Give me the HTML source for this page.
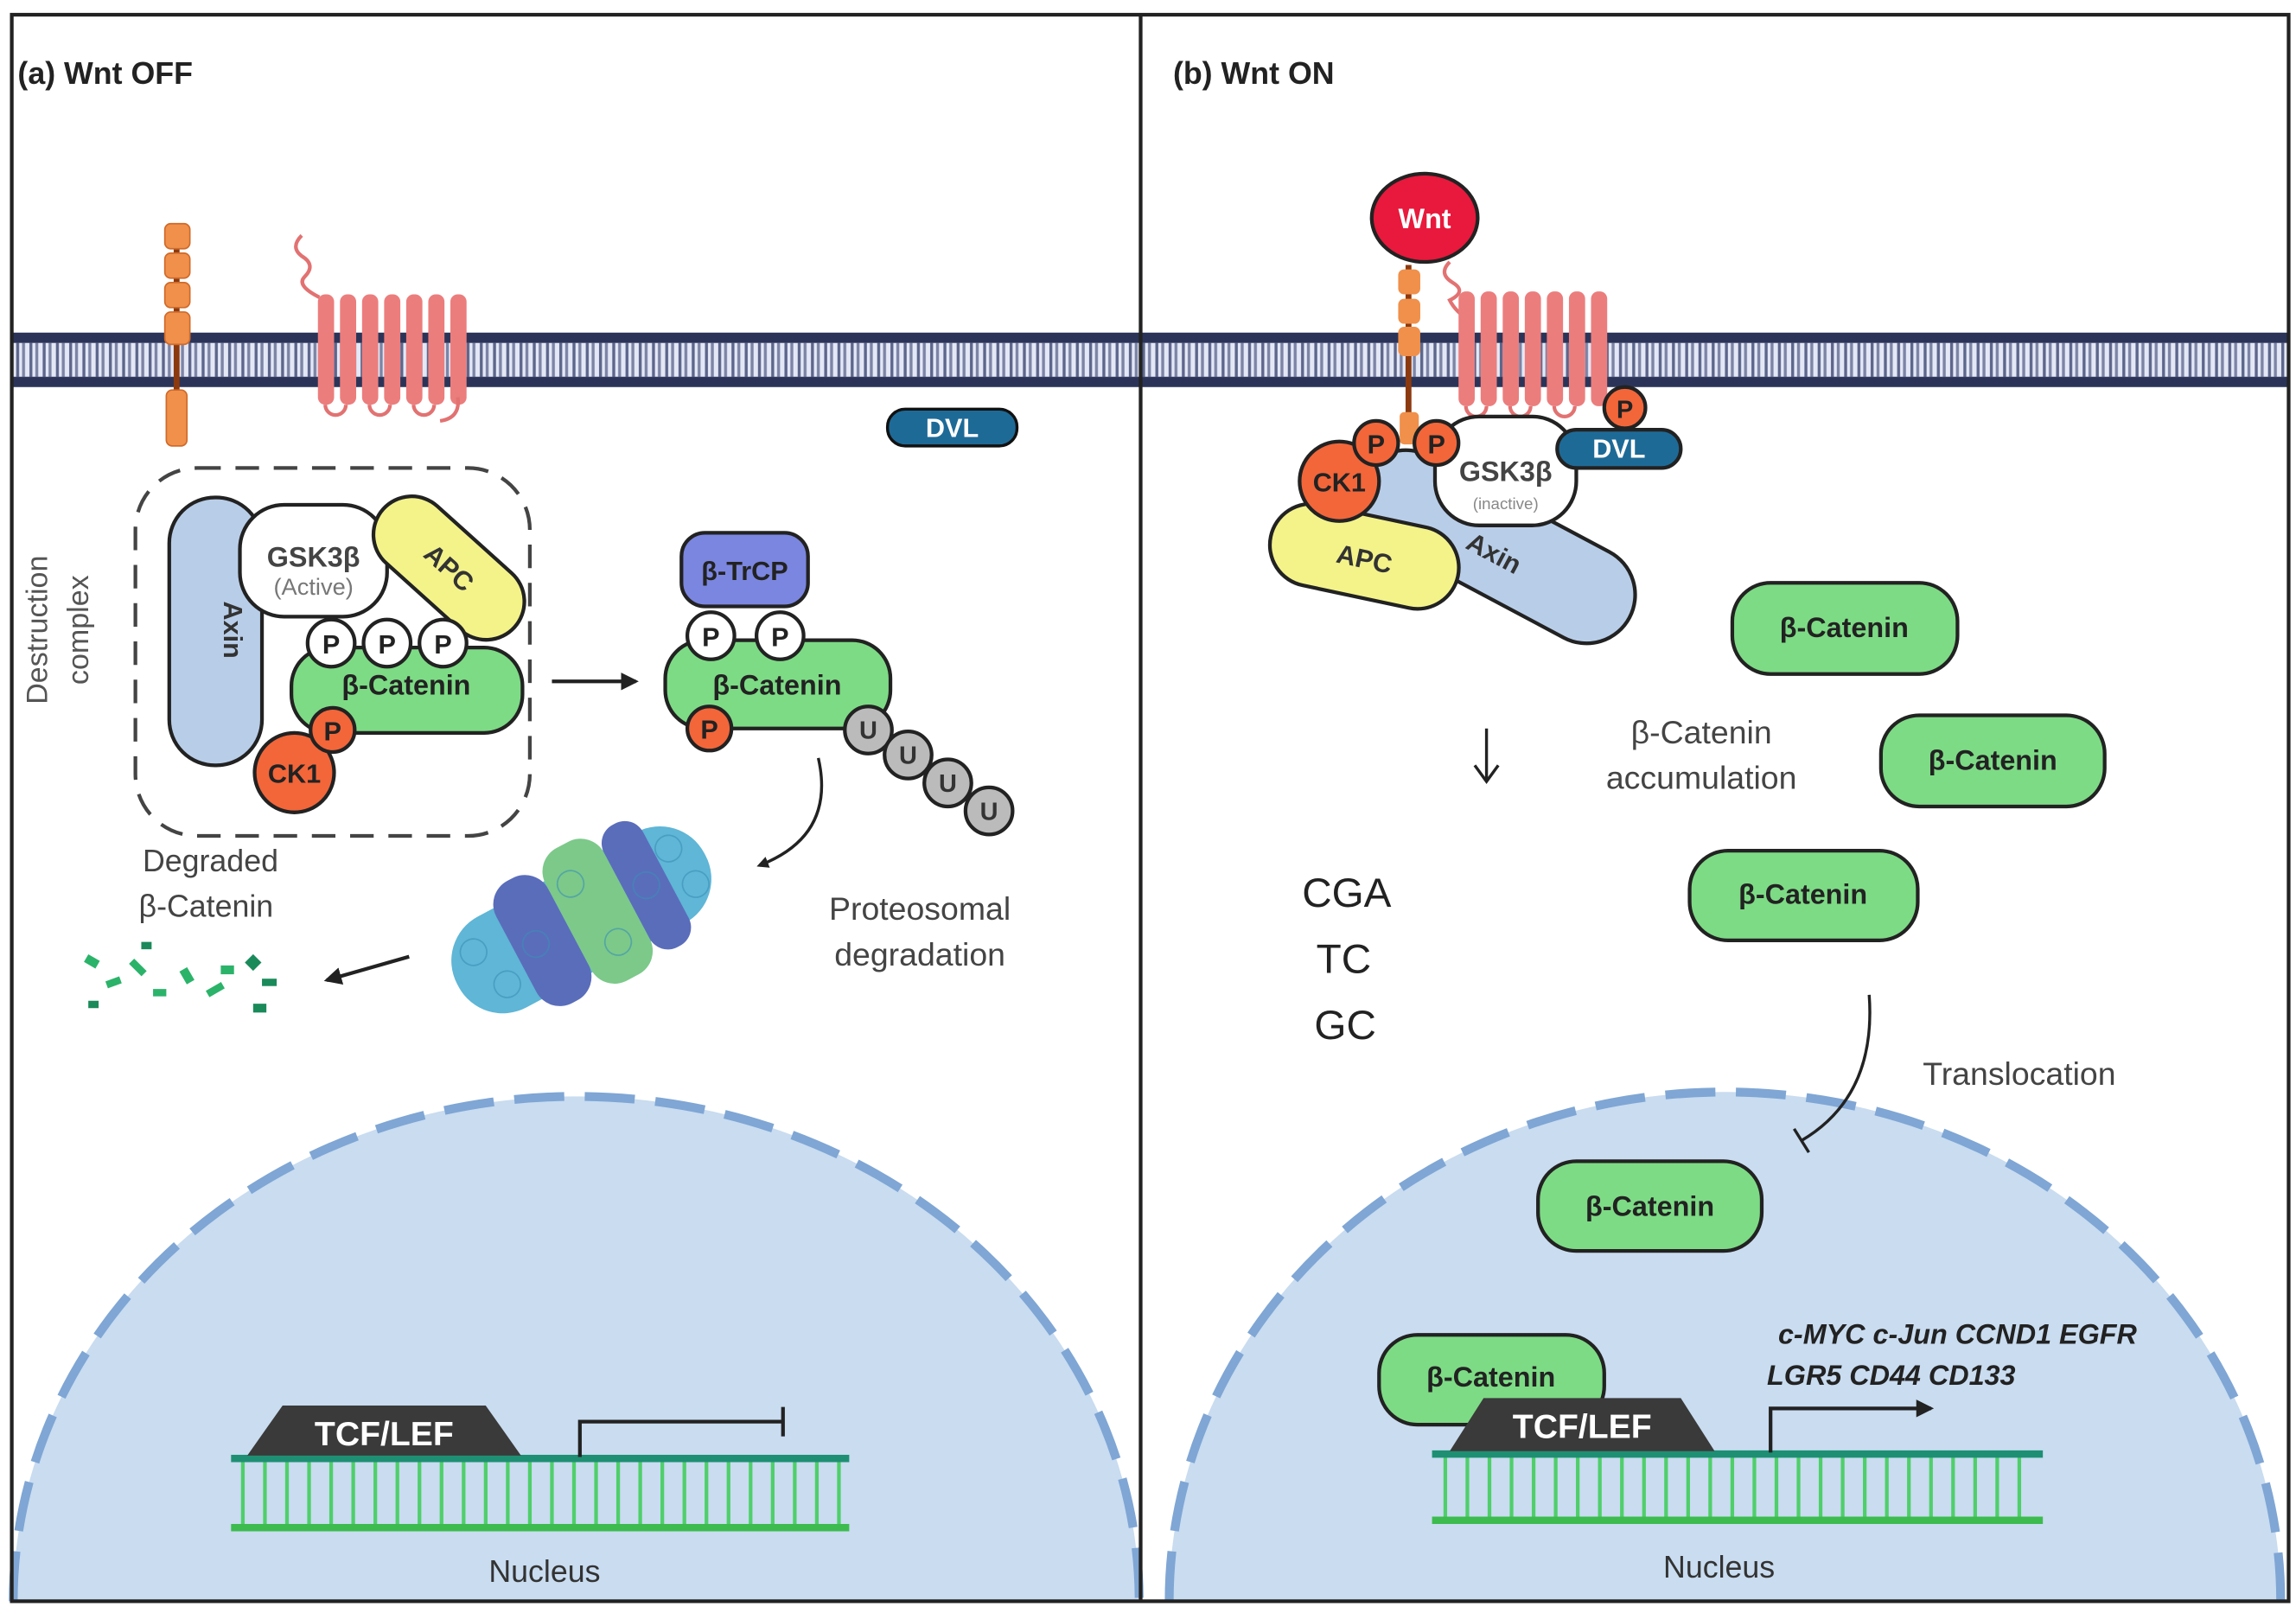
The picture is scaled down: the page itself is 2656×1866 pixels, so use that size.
<!DOCTYPE html>
<html><head><meta charset="utf-8"><style>
html,body{margin:0;padding:0;background:#fff;width:2656px;height:1866px;overflow:hidden;}
svg{display:block;vertical-align:top;}
text{font-family:"Liberation Sans",sans-serif;}
</style></head><body>
<svg width="2656" height="1866" viewBox="0 0 1560 1096" preserveAspectRatio="none" xmlns="http://www.w3.org/2000/svg">
<defs>
<pattern id="mem" x="0" y="226" width="9" height="37" patternUnits="userSpaceOnUse">
<rect width="9" height="37" fill="#e4e8f6"/>
<rect x="0" y="0" width="9" height="7" fill="#2b3458"/>
<rect x="0" y="30" width="9" height="7" fill="#2b3458"/>
<rect x="2" y="7" width="2" height="23" fill="#5d668c"/>
<rect x="6" y="7" width="2" height="23" fill="#7c84a6"/>
</pattern>
<marker id="ah" markerWidth="8" markerHeight="8" refX="6" refY="4" orient="auto" markerUnits="userSpaceOnUse"><path d="M0,0 L8,4 L0,8 z" fill="#222"/></marker>
<marker id="ah2" markerWidth="12" markerHeight="12" refX="10" refY="6" orient="auto" markerUnits="userSpaceOnUse"><path d="M0,0 L12,6 L0,12 z" fill="#222"/></marker>
</defs>
<rect width="1560" height="1096" fill="#fff"/>

<path d="M9,1088 A382.5,343 0 0 1 774,1088 Z" fill="#c9dcf0"/>
<path d="M9,1088 A382.5,343 0 0 1 774,1088" fill="none" stroke="#7fa6d4" stroke-width="6" stroke-dasharray="34 14"/>
<path d="M794.4,1088 A377.6,346 0 0 1 1549.6,1088 Z" fill="#c9dcf0"/>
<path d="M794.4,1088 A377.6,346 0 0 1 1549.6,1088" fill="none" stroke="#7fa6d4" stroke-width="6" stroke-dasharray="34 14"/>

<rect x="8" y="226" width="1547" height="37" fill="url(#mem)"/>

<rect x="8" y="10" width="1547" height="1078" fill="none" stroke="#222" stroke-width="2.5"/>
<line x1="775" y1="10" x2="775" y2="1088" stroke="#222" stroke-width="2.5"/>

<text x="12" y="57" font-size="21" font-weight="bold" fill="#222">(a)  Wnt OFF</text>
<text x="797" y="57" font-size="21" font-weight="bold" fill="#222">(b)  Wnt ON</text>

<line x1="120" y1="160" x2="120" y2="290" stroke="#8b3a10" stroke-width="4"/>
<g fill="#f0904a" stroke="#d06a2a" stroke-width="1">
<rect x="112" y="152" width="17" height="17" rx="4"/><rect x="112" y="172" width="17" height="17" rx="4"/><rect x="112" y="192" width="17" height="17" rx="4"/><rect x="112" y="212" width="17" height="22" rx="4"/>
<rect x="113" y="265" width="14" height="38" rx="4"/>
</g>
<path d="M205,160 q-8,8 0,14 q10,6 2,14 q-6,6 10,14" fill="none" stroke="#e27272" stroke-width="2.5"/>
<g fill="#ec7d7d">
<rect x="216" y="200" width="11" height="75" rx="5"/><rect x="231" y="200" width="11" height="75" rx="5"/><rect x="246" y="200" width="11" height="75" rx="5"/><rect x="261" y="200" width="11" height="75" rx="5"/><rect x="276" y="200" width="11" height="75" rx="5"/><rect x="291" y="200" width="11" height="75" rx="5"/><rect x="306" y="200" width="11" height="75" rx="5"/>
</g>
<path d="M221,275 a7,7 0 0 0 14,0 M251,275 a7,7 0 0 0 14,0 M281,275 a7,7 0 0 0 14,0 M311,270 q2,14 -12,16" fill="none" stroke="#e27272" stroke-width="2.5"/>
<rect x="603" y="278" width="88" height="25" rx="12" fill="#1e6a97" stroke="#111" stroke-width="2"/>
<text x="647" y="297" font-size="18" font-weight="bold" fill="#fff" text-anchor="middle">DVL</text>

<rect x="92" y="318" width="268" height="250" rx="42" fill="none" stroke="#444" stroke-width="2.5" stroke-dasharray="16 10"/>
<text transform="translate(32,428) rotate(-90)" font-size="20" fill="#555" text-anchor="middle">Destruction</text>
<text transform="translate(60,428) rotate(-90)" font-size="20" fill="#555" text-anchor="middle">complex</text>
<rect x="115" y="338" width="63" height="182" rx="31" fill="#b8cde8" stroke="#222" stroke-width="2.5"/>
<text transform="translate(152,428) rotate(90)" font-size="18" font-weight="bold" fill="#333" text-anchor="middle">Axin</text>
<rect x="163" y="343" width="100" height="76" rx="30" fill="#fff" stroke="#222" stroke-width="2.5"/>
<text x="213" y="385" font-size="19" font-weight="bold" fill="#444" text-anchor="middle">GSK3β</text>
<text x="213" y="404" font-size="16" fill="#777" text-anchor="middle">(Active)</text>
<rect x="245" y="360" width="120" height="52" rx="26" fill="#f3f38a" stroke="#222" stroke-width="2.5" transform="rotate(42 305 386)"/>
<text x="305" y="392" font-size="18" font-weight="bold" fill="#333" text-anchor="middle" transform="rotate(42 305 386)">APC</text>
<rect x="198" y="440" width="157" height="58" rx="26" fill="#7ddb85" stroke="#222" stroke-width="2.5"/>
<text x="276" y="472" font-size="19" font-weight="bold" fill="#222" text-anchor="middle">β-Catenin</text>
<g stroke="#222" stroke-width="2.5" fill="#fff">
<circle cx="225" cy="437" r="16"/><circle cx="263" cy="437" r="16"/><circle cx="301" cy="437" r="16"/>
</g>
<g font-size="18" font-weight="bold" fill="#222" text-anchor="middle"><text x="225" y="444">P</text><text x="263" y="444">P</text><text x="301" y="444">P</text></g>
<circle cx="200" cy="525" r="27" fill="#f2663a" stroke="#222" stroke-width="2.5"/>
<text x="200" y="532" font-size="18" font-weight="bold" fill="#222" text-anchor="middle">CK1</text>
<circle cx="226" cy="496" r="15" fill="#f2663a" stroke="#222" stroke-width="2.5"/>
<text x="226" y="503" font-size="18" font-weight="bold" fill="#222" text-anchor="middle">P</text>

<line x1="375" y1="463" x2="432" y2="463" stroke="#222" stroke-width="2.5" marker-end="url(#ah2)"/>

<rect x="463" y="362" width="86" height="50" rx="16" fill="#7b86e0" stroke="#222" stroke-width="2.5"/>
<text x="506" y="394" font-size="18" font-weight="bold" fill="#222" text-anchor="middle">β-TrCP</text>
<rect x="452" y="435" width="153" height="60" rx="26" fill="#7ddb85" stroke="#222" stroke-width="2.5"/>
<text x="528" y="472" font-size="19" font-weight="bold" fill="#222" text-anchor="middle">β-Catenin</text>
<g stroke="#222" stroke-width="2.5" fill="#fff"><circle cx="483" cy="432" r="16"/><circle cx="530" cy="432" r="16"/></g>
<g font-size="18" font-weight="bold" fill="#222" text-anchor="middle"><text x="483" y="439">P</text><text x="530" y="439">P</text></g>
<circle cx="482" cy="495" r="15" fill="#f2663a" stroke="#222" stroke-width="2.5"/>
<text x="482" y="502" font-size="18" font-weight="bold" fill="#222" text-anchor="middle">P</text>
<g stroke="#222" stroke-width="2.5" fill="#bbbbbb">
<circle cx="590" cy="496" r="16"/><circle cx="617" cy="513" r="16"/><circle cx="644" cy="532" r="16"/><circle cx="672" cy="551" r="16"/>
</g>
<g font-size="17" font-weight="bold" fill="#333" text-anchor="middle"><text x="590" y="502">U</text><text x="617" y="519">U</text><text x="644" y="538">U</text><text x="672" y="557">U</text></g>

<path d="M556,515 Q568,568 516,588" fill="none" stroke="#222" stroke-width="2" marker-end="url(#ah)"/>
<text x="625" y="625" font-size="22" fill="#444" text-anchor="middle">Proteosomal</text>
<text x="625" y="656" font-size="22" fill="#444" text-anchor="middle">degradation</text>

<g transform="rotate(-28 395 625)">
<rect x="300" y="590" width="190" height="70" rx="34" fill="#5fb6d6"/>
<rect x="345" y="578" width="40" height="94" rx="18" fill="#5a6dbb"/>
<rect x="385" y="574" width="45" height="102" rx="18" fill="#7cc98a"/>
<rect x="430" y="578" width="30" height="94" rx="14" fill="#5a6dbb"/>
<g fill="none" stroke="#3b8fb5" stroke-width="1" opacity="0.6">
<circle cx="320" cy="610" r="9"/><circle cx="330" cy="640" r="9"/><circle cx="470" cy="610" r="9"/><circle cx="475" cy="640" r="9"/><circle cx="400" cy="600" r="9"/><circle cx="410" cy="650" r="9"/><circle cx="360" cy="625" r="9"/><circle cx="445" cy="625" r="9"/>
</g>
</g>
<line x1="278" y1="650" x2="222" y2="666" stroke="#222" stroke-width="2.5" marker-end="url(#ah2)"/>
<text x="143" y="592" font-size="21" fill="#444" text-anchor="middle">Degraded</text>
<text x="140" y="623" font-size="21" fill="#444" text-anchor="middle">β-Catenin</text>
<g fill="#2bb36a">
<rect x="58" y="650" width="9" height="6" transform="rotate(30 62 653)"/><rect x="72" y="665" width="10" height="5" transform="rotate(-20 77 667)"/>
<rect x="88" y="655" width="12" height="5" transform="rotate(45 94 657)"/><rect x="104" y="672" width="9" height="5"/>
<rect x="122" y="660" width="10" height="6" transform="rotate(60 127 663)"/><rect x="140" y="670" width="12" height="5" transform="rotate(-30 146 672)"/>
<rect x="150" y="656" width="9" height="6"/><rect x="168" y="650" width="8" height="8" fill="#1a8a5a" transform="rotate(45 172 654)"/>
<rect x="172" y="682" width="9" height="6" fill="#1a8a5a"/><rect x="60" y="680" width="7" height="5" fill="#1a8a5a"/>
<rect x="178" y="665" width="10" height="5" fill="#1a8a5a"/><rect x="96" y="640" width="7" height="5" fill="#1a8a5a"/>
</g>

<g stroke="#4fcf6a" stroke-width="2.5">
<line x1="165" y1="992" x2="165" y2="1037"/><line x1="180" y1="992" x2="180" y2="1037"/><line x1="195" y1="992" x2="195" y2="1037"/><line x1="210" y1="992" x2="210" y2="1037"/><line x1="225" y1="992" x2="225" y2="1037"/><line x1="240" y1="992" x2="240" y2="1037"/><line x1="255" y1="992" x2="255" y2="1037"/><line x1="270" y1="992" x2="270" y2="1037"/><line x1="285" y1="992" x2="285" y2="1037"/><line x1="300" y1="992" x2="300" y2="1037"/><line x1="315" y1="992" x2="315" y2="1037"/><line x1="330" y1="992" x2="330" y2="1037"/><line x1="345" y1="992" x2="345" y2="1037"/><line x1="360" y1="992" x2="360" y2="1037"/><line x1="375" y1="992" x2="375" y2="1037"/><line x1="390" y1="992" x2="390" y2="1037"/><line x1="405" y1="992" x2="405" y2="1037"/><line x1="420" y1="992" x2="420" y2="1037"/><line x1="435" y1="992" x2="435" y2="1037"/><line x1="450" y1="992" x2="450" y2="1037"/><line x1="465" y1="992" x2="465" y2="1037"/><line x1="480" y1="992" x2="480" y2="1037"/><line x1="495" y1="992" x2="495" y2="1037"/><line x1="510" y1="992" x2="510" y2="1037"/><line x1="525" y1="992" x2="525" y2="1037"/><line x1="540" y1="992" x2="540" y2="1037"/><line x1="555" y1="992" x2="555" y2="1037"/><line x1="570" y1="992" x2="570" y2="1037"/>
</g>
<line x1="157" y1="991" x2="577" y2="991" stroke="#1e8f73" stroke-width="5"/>
<line x1="157" y1="1038" x2="577" y2="1038" stroke="#3dbb4e" stroke-width="5"/>
<polygon points="168,989 192,955 330,955 354,989" fill="#3a3a3a"/>
<text x="261" y="982" font-size="23" font-weight="bold" fill="#fff" text-anchor="middle">TCF/LEF</text>
<path d="M394,990 V966 H532" fill="none" stroke="#222" stroke-width="2.5"/>
<line x1="532" y1="956" x2="532" y2="976" stroke="#222" stroke-width="2.5"/>
<text x="370" y="1075" font-size="21" fill="#333" text-anchor="middle">Nucleus</text>

<path d="M985,178 q-8,8 2,14 q10,6 -2,12 q4,8 14,14" fill="none" stroke="#e27272" stroke-width="2.5"/>
<g fill="#ec7d7d">
<rect x="991" y="198" width="11" height="78" rx="5"/><rect x="1006" y="198" width="11" height="78" rx="5"/><rect x="1021" y="198" width="11" height="78" rx="5"/><rect x="1036" y="198" width="11" height="78" rx="5"/><rect x="1051" y="198" width="11" height="78" rx="5"/><rect x="1066" y="198" width="11" height="78" rx="5"/><rect x="1081" y="198" width="11" height="78" rx="5"/>
</g>
<path d="M996,276 a7,7 0 0 0 14,0 M1026,276 a7,7 0 0 0 14,0 M1056,276 a7,7 0 0 0 14,0" fill="none" stroke="#e27272" stroke-width="2.5"/>
<line x1="957" y1="180" x2="957" y2="300" stroke="#8b3a10" stroke-width="4"/>
<g fill="#f0904a"><rect x="950" y="183" width="15" height="17" rx="4"/><rect x="950" y="203" width="15" height="17" rx="4"/><rect x="950" y="222" width="15" height="20" rx="4"/><rect x="951" y="280" width="13" height="22" rx="3"/></g>
<ellipse cx="968" cy="148" rx="36" ry="30" fill="#e8193c" stroke="#222" stroke-width="2.5"/>
<text x="968" y="155" font-size="19" font-weight="bold" fill="#fff" text-anchor="middle">Wnt</text>

<rect x="915" y="335" width="205" height="66" rx="33" fill="#b8cde8" stroke="#222" stroke-width="2.5" transform="rotate(28 1010 368)"/>
<text x="1015" y="382" font-size="18" font-weight="bold" fill="#333" text-anchor="middle" transform="rotate(28 1015 376)">Axin</text>
<rect x="862" y="350" width="130" height="56" rx="28" fill="#f3f38a" stroke="#222" stroke-width="2.5" transform="rotate(12 927 378)"/>
<text x="927" y="386" font-size="18" font-weight="bold" fill="#333" text-anchor="middle" transform="rotate(12 927 380)">APC</text>
<rect x="975" y="283" width="96" height="74" rx="30" fill="#fff" stroke="#222" stroke-width="2.5"/>
<text x="1023" y="327" font-size="19" font-weight="bold" fill="#444" text-anchor="middle">GSK3β</text>
<text x="1023" y="346" font-size="11" fill="#888" text-anchor="middle">(inactive)</text>
<rect x="1058" y="292" width="84" height="26" rx="13" fill="#1e6a97" stroke="#222" stroke-width="2.5"/>
<text x="1100" y="311" font-size="18" font-weight="bold" fill="#fff" text-anchor="middle">DVL</text>
<circle cx="1104" cy="277" r="14" fill="#f2663a" stroke="#222" stroke-width="2.5"/>
<text x="1104" y="284" font-size="17" font-weight="bold" fill="#222" text-anchor="middle">P</text>
<circle cx="910" cy="327" r="27" fill="#f2663a" stroke="#222" stroke-width="2.5"/>
<text x="910" y="334" font-size="18" font-weight="bold" fill="#222" text-anchor="middle">CK1</text>
<circle cx="935" cy="301" r="15" fill="#f2663a" stroke="#222" stroke-width="2.5"/>
<circle cx="976" cy="301" r="15" fill="#f2663a" stroke="#222" stroke-width="2.5"/>
<g font-size="18" font-weight="bold" fill="#222" text-anchor="middle"><text x="935" y="308">P</text><text x="976" y="308">P</text></g>

<g stroke="#222" stroke-width="2.5" fill="#7ddb85">
<rect x="1177" y="396" width="153" height="62" rx="26"/>
<rect x="1278" y="486" width="152" height="62" rx="26"/>
<rect x="1148" y="578" width="155" height="61" rx="26"/>
<rect x="1045" y="789" width="152" height="61" rx="26"/>
<rect x="937" y="907" width="153" height="61" rx="26"/>
</g>
<g font-size="19" font-weight="bold" fill="#222" text-anchor="middle">
<text x="1253" y="433">β-Catenin</text><text x="1354" y="523">β-Catenin</text><text x="1225" y="614">β-Catenin</text><text x="1121" y="826">β-Catenin</text><text x="1013" y="942">β-Catenin</text>
</g>
<text x="1156" y="505" font-size="22" fill="#444" text-anchor="middle">β-Catenin</text>
<text x="1156" y="536" font-size="22" fill="#444" text-anchor="middle">accumulation</text>
<line x1="1010" y1="495" x2="1010" y2="530" stroke="#222" stroke-width="2"/>
<path d="M1002,520 L1010,531 L1018,520" fill="none" stroke="#222" stroke-width="2"/>
<g font-size="28" fill="#222" text-anchor="middle"><text x="915" y="616">CGA</text><text x="913" y="661">TC</text><text x="914" y="706">GC</text></g>
<path d="M1270,676 Q1275,745 1224,775" fill="none" stroke="#222" stroke-width="2"/>
<line x1="1219" y1="767" x2="1229" y2="783" stroke="#222" stroke-width="2"/>
<text x="1372" y="737" font-size="22" fill="#444" text-anchor="middle">Translocation</text>

<g stroke="#4fcf6a" stroke-width="2.5">
<line x1="982" y1="989" x2="982" y2="1032"/><line x1="997" y1="989" x2="997" y2="1032"/><line x1="1012" y1="989" x2="1012" y2="1032"/><line x1="1027" y1="989" x2="1027" y2="1032"/><line x1="1042" y1="989" x2="1042" y2="1032"/><line x1="1057" y1="989" x2="1057" y2="1032"/><line x1="1072" y1="989" x2="1072" y2="1032"/><line x1="1087" y1="989" x2="1087" y2="1032"/><line x1="1102" y1="989" x2="1102" y2="1032"/><line x1="1117" y1="989" x2="1117" y2="1032"/><line x1="1132" y1="989" x2="1132" y2="1032"/><line x1="1147" y1="989" x2="1147" y2="1032"/><line x1="1162" y1="989" x2="1162" y2="1032"/><line x1="1177" y1="989" x2="1177" y2="1032"/><line x1="1192" y1="989" x2="1192" y2="1032"/><line x1="1207" y1="989" x2="1207" y2="1032"/><line x1="1222" y1="989" x2="1222" y2="1032"/><line x1="1237" y1="989" x2="1237" y2="1032"/><line x1="1252" y1="989" x2="1252" y2="1032"/><line x1="1267" y1="989" x2="1267" y2="1032"/><line x1="1282" y1="989" x2="1282" y2="1032"/><line x1="1297" y1="989" x2="1297" y2="1032"/><line x1="1312" y1="989" x2="1312" y2="1032"/><line x1="1327" y1="989" x2="1327" y2="1032"/><line x1="1342" y1="989" x2="1342" y2="1032"/><line x1="1357" y1="989" x2="1357" y2="1032"/><line x1="1372" y1="989" x2="1372" y2="1032"/>
</g>
<line x1="973" y1="988" x2="1388" y2="988" stroke="#1e8f73" stroke-width="5"/>
<line x1="973" y1="1033" x2="1388" y2="1033" stroke="#3dbb4e" stroke-width="5"/>
<polygon points="985,986 1008,950 1142,950 1165,986" fill="#3a3a3a"/>
<text x="1075" y="977" font-size="23" font-weight="bold" fill="#fff" text-anchor="middle">TCF/LEF</text>
<path d="M1203,987 V957 H1312" fill="none" stroke="#222" stroke-width="2.5" marker-end="url(#ah2)"/>
<text x="1330" y="913" font-size="19" font-weight="bold" font-style="italic" fill="#222" text-anchor="middle">c-MYC c-Jun CCND1 EGFR</text>
<text x="1285" y="941" font-size="19" font-weight="bold" font-style="italic" fill="#222" text-anchor="middle">LGR5 CD44 CD133</text>
<text x="1168" y="1072" font-size="21" fill="#333" text-anchor="middle">Nucleus</text>
</svg>
</body></html>
